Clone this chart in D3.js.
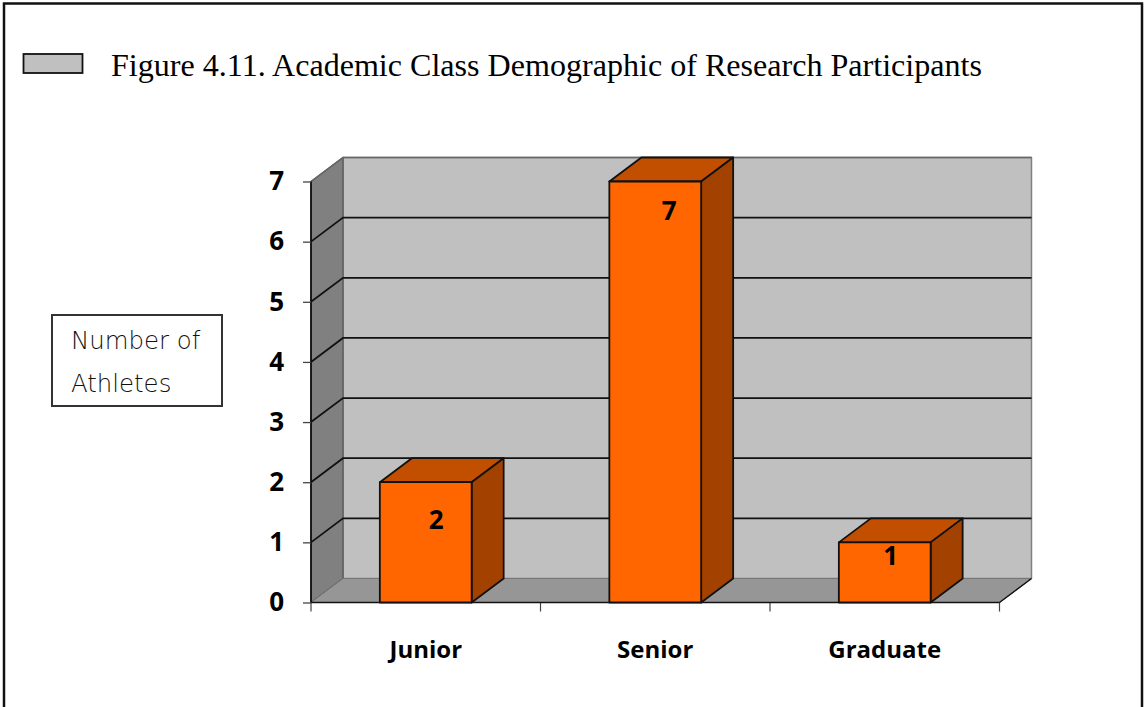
<!DOCTYPE html>
<html>
<head>
<meta charset="utf-8">
<script src="https://cdn.jsdelivr.net/npm/d3@7"></script>
<style>
html, body { margin: 0; padding: 0; background: #fff; overflow: hidden; }
text { fill: #000; }
.cat-lab { font-family: "Open Sans", sans-serif; font-weight: 700; font-size: 24px; }
.tick-lab, .val-lab { font-family: "Open Sans", sans-serif; font-weight: 700; font-size: 26px; }
</style>
</head>
<body>
<svg id="chart" width="1146" height="707"></svg>
<script>
var categories = ["Junior", "Senior", "Graduate"];
var athletes = [2, 7, 1];
var yTicks = [0, 1, 2, 3, 4, 5, 6, 7];
var titleText = "Figure 4.11. Academic Class Demographic of Research Participants";
var yLabelLines = ["Number of", "Athletes"];

// hand placed in the original, the labels are not centred on the bars
var labelNudge = [[10.5, 47], [14, 38], [6, 23]];

var depthX = 32, depthY = 24;

var svg = d3.select("#chart");

var x = d3.scaleBand().domain(categories).range([311, 999.5]).paddingInner(0.6).paddingOuter(0.3);
var y = d3.scaleLinear().domain([0, 7]).range([602.5, 181.5]);

function poly(pts, fill, stroke, sw) {
	return svg.append("polygon")
		.attr("points", pts.map(function(p) { return p.join(","); }).join(" "))
		.attr("fill", fill)
		.attr("stroke", stroke)
		.attr("stroke-width", sw)
		.attr("stroke-linejoin", "round");
}

// page frame, no bottom edge in the original
svg.append("path")
	.attr("d", "M4,707V3.5H1142V707")
	.attr("fill", "none").attr("stroke", "#111").attr("stroke-width", 2.5);

// legend key
svg.append("rect").attr("x", 23.5).attr("y", 54).attr("width", 59).attr("height", 19)
	.attr("fill", "#c0c0c0").attr("stroke", "#111").attr("stroke-width", 1.8);

svg.append("text").attr("x", 111).attr("y", 76)
	.style("font-family", "'Liberation Serif', serif").style("font-size", "32.1px")
	.text(titleText);

// y label box
svg.append("rect").attr("x", 52).attr("y", 315).attr("width", 170).attr("height", 91)
	.attr("fill", "#fff").attr("stroke", "#333").attr("stroke-width", 2);
svg.selectAll(".ylab").data(yLabelLines).enter().append("text")
	.attr("class", "ylab")
	.attr("x", 71)
	.attr("y", function(d, i) { return 349 + i * 43; })
	.style("font-family", "'DejaVu Sans', sans-serif").style("font-weight", 200)
	.style("font-size", "24.4px").style("fill", "#111")
	.text(function(d) { return d; });

// walls and floor
var x0 = x.range()[0], x1 = x.range()[1];
poly([[x0 + depthX, y(7) - depthY], [x1 + depthX, y(7) - depthY], [x1 + depthX, y(0) - depthY], [x0 + depthX, y(0) - depthY]], "#c0c0c0", "#808080", 1.5);
poly([[x0, y(0)], [x0 + depthX, y(0) - depthY], [x0 + depthX, y(7) - depthY], [x0, y(7)]], "#808080", "#555", 1.2);
poly([[x0, y(0)], [x1, y(0)], [x1 + depthX, y(0) - depthY], [x0 + depthX, y(0) - depthY]], "#969696", "#777", 1);

// gridlines go across the side wall and the back wall
svg.selectAll(".grid").data(yTicks.slice(1)).enter().append("path")
	.attr("class", "grid")
	.attr("fill", "none")
	.attr("stroke", function(d) { return d == 7 ? "#666" : "#111"; })
	.attr("stroke-width", function(d) { return d == 7 ? 1.5 : 1.8; })
	.attr("d", function(d) {
		return "M" + x0 + "," + y(d) + "L" + (x0 + depthX) + "," + (y(d) - depthY) + "H" + (x1 + depthX);
	});

// axes
var yAxis = d3.axisLeft(y).tickValues(yTicks).tickSize(8).tickPadding(19).tickFormat(d3.format("d"));
var gy = svg.append("g").attr("transform", "translate(" + x0 + ",0)").call(yAxis);
gy.select(".domain").attr("stroke", "#111").attr("stroke-width", 1.8).attr("d", "M0," + y(0) + "V" + y(7));
gy.selectAll(".tick line").attr("stroke", "#444").attr("stroke-width", 1.3);
gy.selectAll(".tick text").attr("class", "tick-lab").attr("fill", "#000").attr("font-size", null).attr("font-family", null);

var xEdges = d3.scaleLinear().domain([0, categories.length]).range([x0, x1]);
svg.selectAll(".xtick").data(d3.range(categories.length + 1)).enter().append("line")
	.attr("class", "xtick")
	.attr("x1", function(d) { return xEdges(d); }).attr("x2", function(d) { return xEdges(d); })
	.attr("y1", y(0)).attr("y2", y(0) + 9)
	.attr("stroke", "#444").attr("stroke-width", 1.2);
svg.append("line").attr("x1", x0).attr("x2", x1).attr("y1", y(0)).attr("y2", y(0))
	.attr("stroke", "#111").attr("stroke-width", 1.6);
svg.append("line").attr("x1", x1).attr("x2", x1 + depthX).attr("y1", y(0)).attr("y2", y(0) - depthY)
	.attr("stroke", "#111").attr("stroke-width", 1.5);

svg.selectAll(".cat-lab").data(categories).enter().append("text")
	.attr("class", "cat-lab")
	.attr("text-anchor", "middle")
	.attr("x", function(d) { return x(d) + x.bandwidth() / 2; })
	.attr("y", 658)
	.text(function(d) { return d; });

// bars
athletes.forEach(function(v, i) {
	var bx = x(categories[i]), bw = x.bandwidth(), top = y(v), bot = y(0);
	poly([[bx, top], [bx + depthX, top - depthY], [bx + bw + depthX, top - depthY], [bx + bw, top]], "#c24e00", "#111", 1.8);
	poly([[bx + bw, top], [bx + bw + depthX, top - depthY], [bx + bw + depthX, bot - depthY], [bx + bw, bot]], "#a34200", "#111", 1.8);
	poly([[bx, top], [bx + bw, top], [bx + bw, bot], [bx, bot]], "#ff6600", "#111", 1.8);
	svg.append("text").attr("class", "val-lab")
		.attr("text-anchor", "middle")
		.attr("x", bx + bw / 2 + labelNudge[i][0])
		.attr("y", top + labelNudge[i][1])
		.text(v);
});
</script>
</body>
</html>
